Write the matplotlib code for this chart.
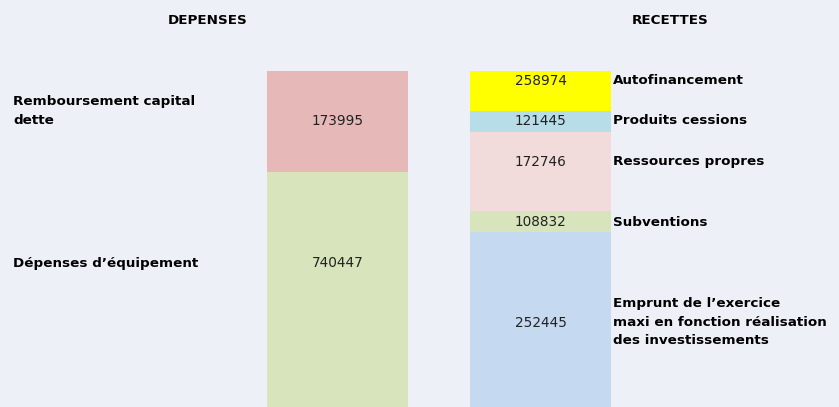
import matplotlib.pyplot as plt
import numpy as np

# values shown in the boxes
dep_labels = ['Remboursement capital\ndette', "Dépenses d’équipement"]
dep_values = [173995, 740447]
rec_labels = ['Autofinancement', 'Produits cessions', 'Ressources propres', 'Subventions',
              "Emprunt de l’exercice\nmaxi en fonction réalisation\ndes investissements"]
rec_values = [258974, 121445, 172746, 108832, 252445]

# box heights as drawn in the picture (not proportional to values)
dep_heights = [101, 235]
rec_heights = [40, 21, 79, 21, 175]

dep_colors = ['#e6b8b7', '#d8e4bc']
rec_colors = ['#ffff00', '#b7dee8', '#f2dcdb', '#d8e4bc', '#c5d9f1']

bg = '#edf0f6'
fig = plt.figure(figsize=(8.39, 4.07), dpi=100, facecolor=bg)
ax = fig.add_axes([0, 0, 1, 1])
ax.set_facecolor(bg)
ax.set_xlim(0, 839)
ax.set_ylim(407, 0)
ax.axis('off')

top = 71
# text offset from box top for the number (most are centered, some sit higher)
dep_text_off = [50, 91]
rec_text_off = [10, 10, 30, 11, 91]

bold = dict(fontfamily='DejaVu Sans', fontweight='bold', fontsize=9.7, color='black')
num = dict(fontfamily='DejaVu Sans', fontsize=9.8, color='#222222', ha='center', va='center')

b = top
for h, v, c, lab, off in zip(dep_heights, dep_values, dep_colors, dep_labels, dep_text_off):
    ax.bar(337.5, h, bottom=b, width=141, color=c, linewidth=0)
    ax.text(337.5, b + off, str(v), **num)
    b += h
ax.text(13, 111, dep_labels[0], va='center', ha='left', linespacing=1.65, **bold)
ax.text(13, 263, dep_labels[1], va='center', ha='left', **bold)

b = top
for h, v, c, lab, off in zip(rec_heights, rec_values, rec_colors, rec_labels, rec_text_off):
    ax.bar(540.5, h, bottom=b, width=141, color=c, linewidth=0)
    ax.text(540.5, b + off, str(v), **num)
    ty = b + off
    if '\n' in lab:
        ty = 322
    ax.text(613, ty, lab, va='center', ha='left', linespacing=1.6, **bold)
    b += h

ax.text(208, 20, 'DEPENSES', ha='center', va='center', **bold)
ax.text(670, 20, 'RECETTES', ha='center', va='center', **bold)

plt.savefig('out.png', dpi=100, facecolor=bg)
